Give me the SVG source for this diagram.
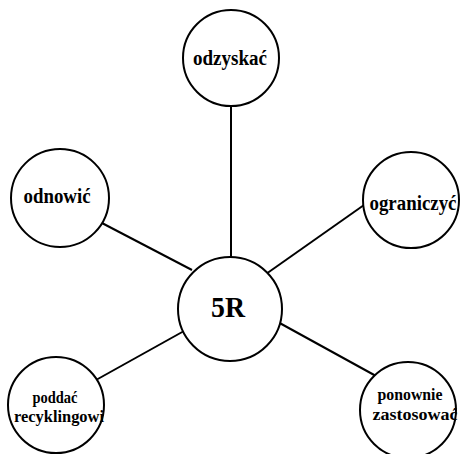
<svg xmlns="http://www.w3.org/2000/svg" width="461" height="454" viewBox="0 0 461 454">
  <style>
    .node circle { fill: #ffffff; stroke: #000000; stroke-width: 2; }
    .node text { font-family: "Liberation Serif", "Times New Roman", serif; font-weight: bold; fill: #000000; text-anchor: middle; }
    .edges line { stroke: #000000; stroke-width: 2; }
  </style>
  <rect width="461" height="454" fill="#ffffff"/>
  <g id="edges" class="edges">
    <line x1="231" y1="106" x2="231" y2="257"/>
    <line x1="100" y1="222" x2="192" y2="270"/>
    <line x1="364" y1="205" x2="266" y2="274"/>
    <line x1="96" y1="380" x2="184" y2="331"/>
    <line x1="276" y1="321" x2="376" y2="376"/>
  </g>
  <g id="center" class="node">
    <circle cx="230" cy="309" r="52"/>
    <text x="228" y="317" font-size="30" textLength="34" lengthAdjust="spacingAndGlyphs">5R</text>
  </g>
  <g id="odzyskac" class="node">
    <circle cx="231" cy="58" r="48"/>
    <text x="230" y="65" font-size="20" textLength="74" lengthAdjust="spacingAndGlyphs">odzyskać</text>
  </g>
  <g id="odnowic" class="node">
    <circle cx="60" cy="198" r="49"/>
    <text x="57" y="203" font-size="20" textLength="67" lengthAdjust="spacingAndGlyphs">odnowić</text>
  </g>
  <g id="ograniczyc" class="node">
    <circle cx="411" cy="200" r="48"/>
    <text x="413" y="210" font-size="20" textLength="87" lengthAdjust="spacingAndGlyphs">ograniczyć</text>
  </g>
  <g id="poddac" class="node">
    <circle cx="56" cy="405" r="48"/>
    <text x="55" y="403" font-size="16" textLength="45" lengthAdjust="spacingAndGlyphs">poddać</text>
    <text x="59" y="422" font-size="16" textLength="90" lengthAdjust="spacingAndGlyphs">recyklingowi</text>
  </g>
  <g id="ponownie" class="node">
    <circle cx="408" cy="410" r="48"/>
    <text x="410" y="400" font-size="16" textLength="65" lengthAdjust="spacingAndGlyphs">ponownie</text>
    <text x="415" y="420" font-size="16" textLength="85" lengthAdjust="spacingAndGlyphs">zastosować</text>
  </g>
</svg>
